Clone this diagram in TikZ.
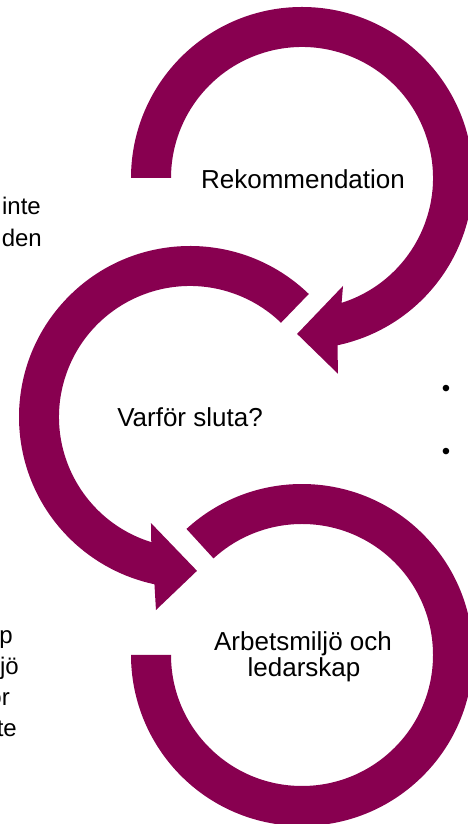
\documentclass[tikz,border=0pt]{standalone}
\usepackage{fontspec}
\setmainfont{Liberation Sans}
\usetikzlibrary{calc}
\definecolor{plum}{RGB}{136,0,80}
\begin{document}
\begin{tikzpicture}[x=1pt,y=1pt,
  ring/.style={fill=plum,draw=none},
  lbl/.style={font=\fontsize{26}{26}\selectfont,inner sep=0pt,text=black,align=center},
  side/.style={font=\fontsize{24}{24}\selectfont,inner sep=0pt,anchor=base east},
  bul/.style={font=\fontsize{24}{24}\selectfont,inner sep=0pt}]
\useasboundingbox (0,0) rectangle (468,824);
\clip (0,0) rectangle (468,824);
\coordinate (c1) at (302,646);
\coordinate (c2) at (190,407);
\coordinate (c3) at (302,169);
% ring 1: Rekommendation (clockwise, arrow at lower left)
\fill[ring] ($(c1)+(180:171)$) arc[start angle=180,end angle=-78,radius=171]
  -- ($(c1)+(-79.6:199)$) -- ($(c1)+(-91.8:156)$) -- ($(c1)+(-69.2:115.5)$)
  -- ($(c1)+(-72.4:131)$) arc[start angle=-72.4,end angle=180,radius=131] -- cycle;
% ring 2: Varfor sluta? (counter-clockwise, arrow at bottom)
\fill[ring] ($(c2)+(46:171)$) arc[start angle=46,end angle=258,radius=171]
  -- ($(c2)+(260:196)$) -- ($(c2)+(272.6:154)$) -- ($(c2)+(249.8:113)$)
  -- ($(c2)+(252.8:131)$) arc[start angle=252.8,end angle=46,radius=131] -- cycle;
% ring 3: Arbetsmiljo och ledarskap
\fill[ring] ($(c3)+(132.5:171)$) arc[start angle=132.5,end angle=-180,radius=171]
  -- ($(c3)+(180:131)$) arc[start angle=-180,end angle=132.5,radius=131] -- cycle;
% labels
\node[lbl,anchor=base] (rek) at (303,635) {Rekommendation};
\node[lbl,anchor=base] (var) at (190,397) {Varför sluta?};
\node[lbl,anchor=base] (arb1) at (303,173) {Arbetsmiljö och};
\node[lbl,anchor=base] (arb2) at (304,147) {ledarskap};
% cut-off side texts
\node[side] (s1) at (41,609) {inte};
\node[side] (s2) at (42,577) {den};
\node[side] (s3) at (13,180) {p};
\node[side] (s4) at (19,149) {jö};
\node[side] (s5) at (10,118) {or};
\node[side] (s6) at (17,87) {te};
\node[bul] (b1) at (446,433) {•};
\node[bul] (b2) at (446,370) {•};
\end{tikzpicture}
\end{document}
